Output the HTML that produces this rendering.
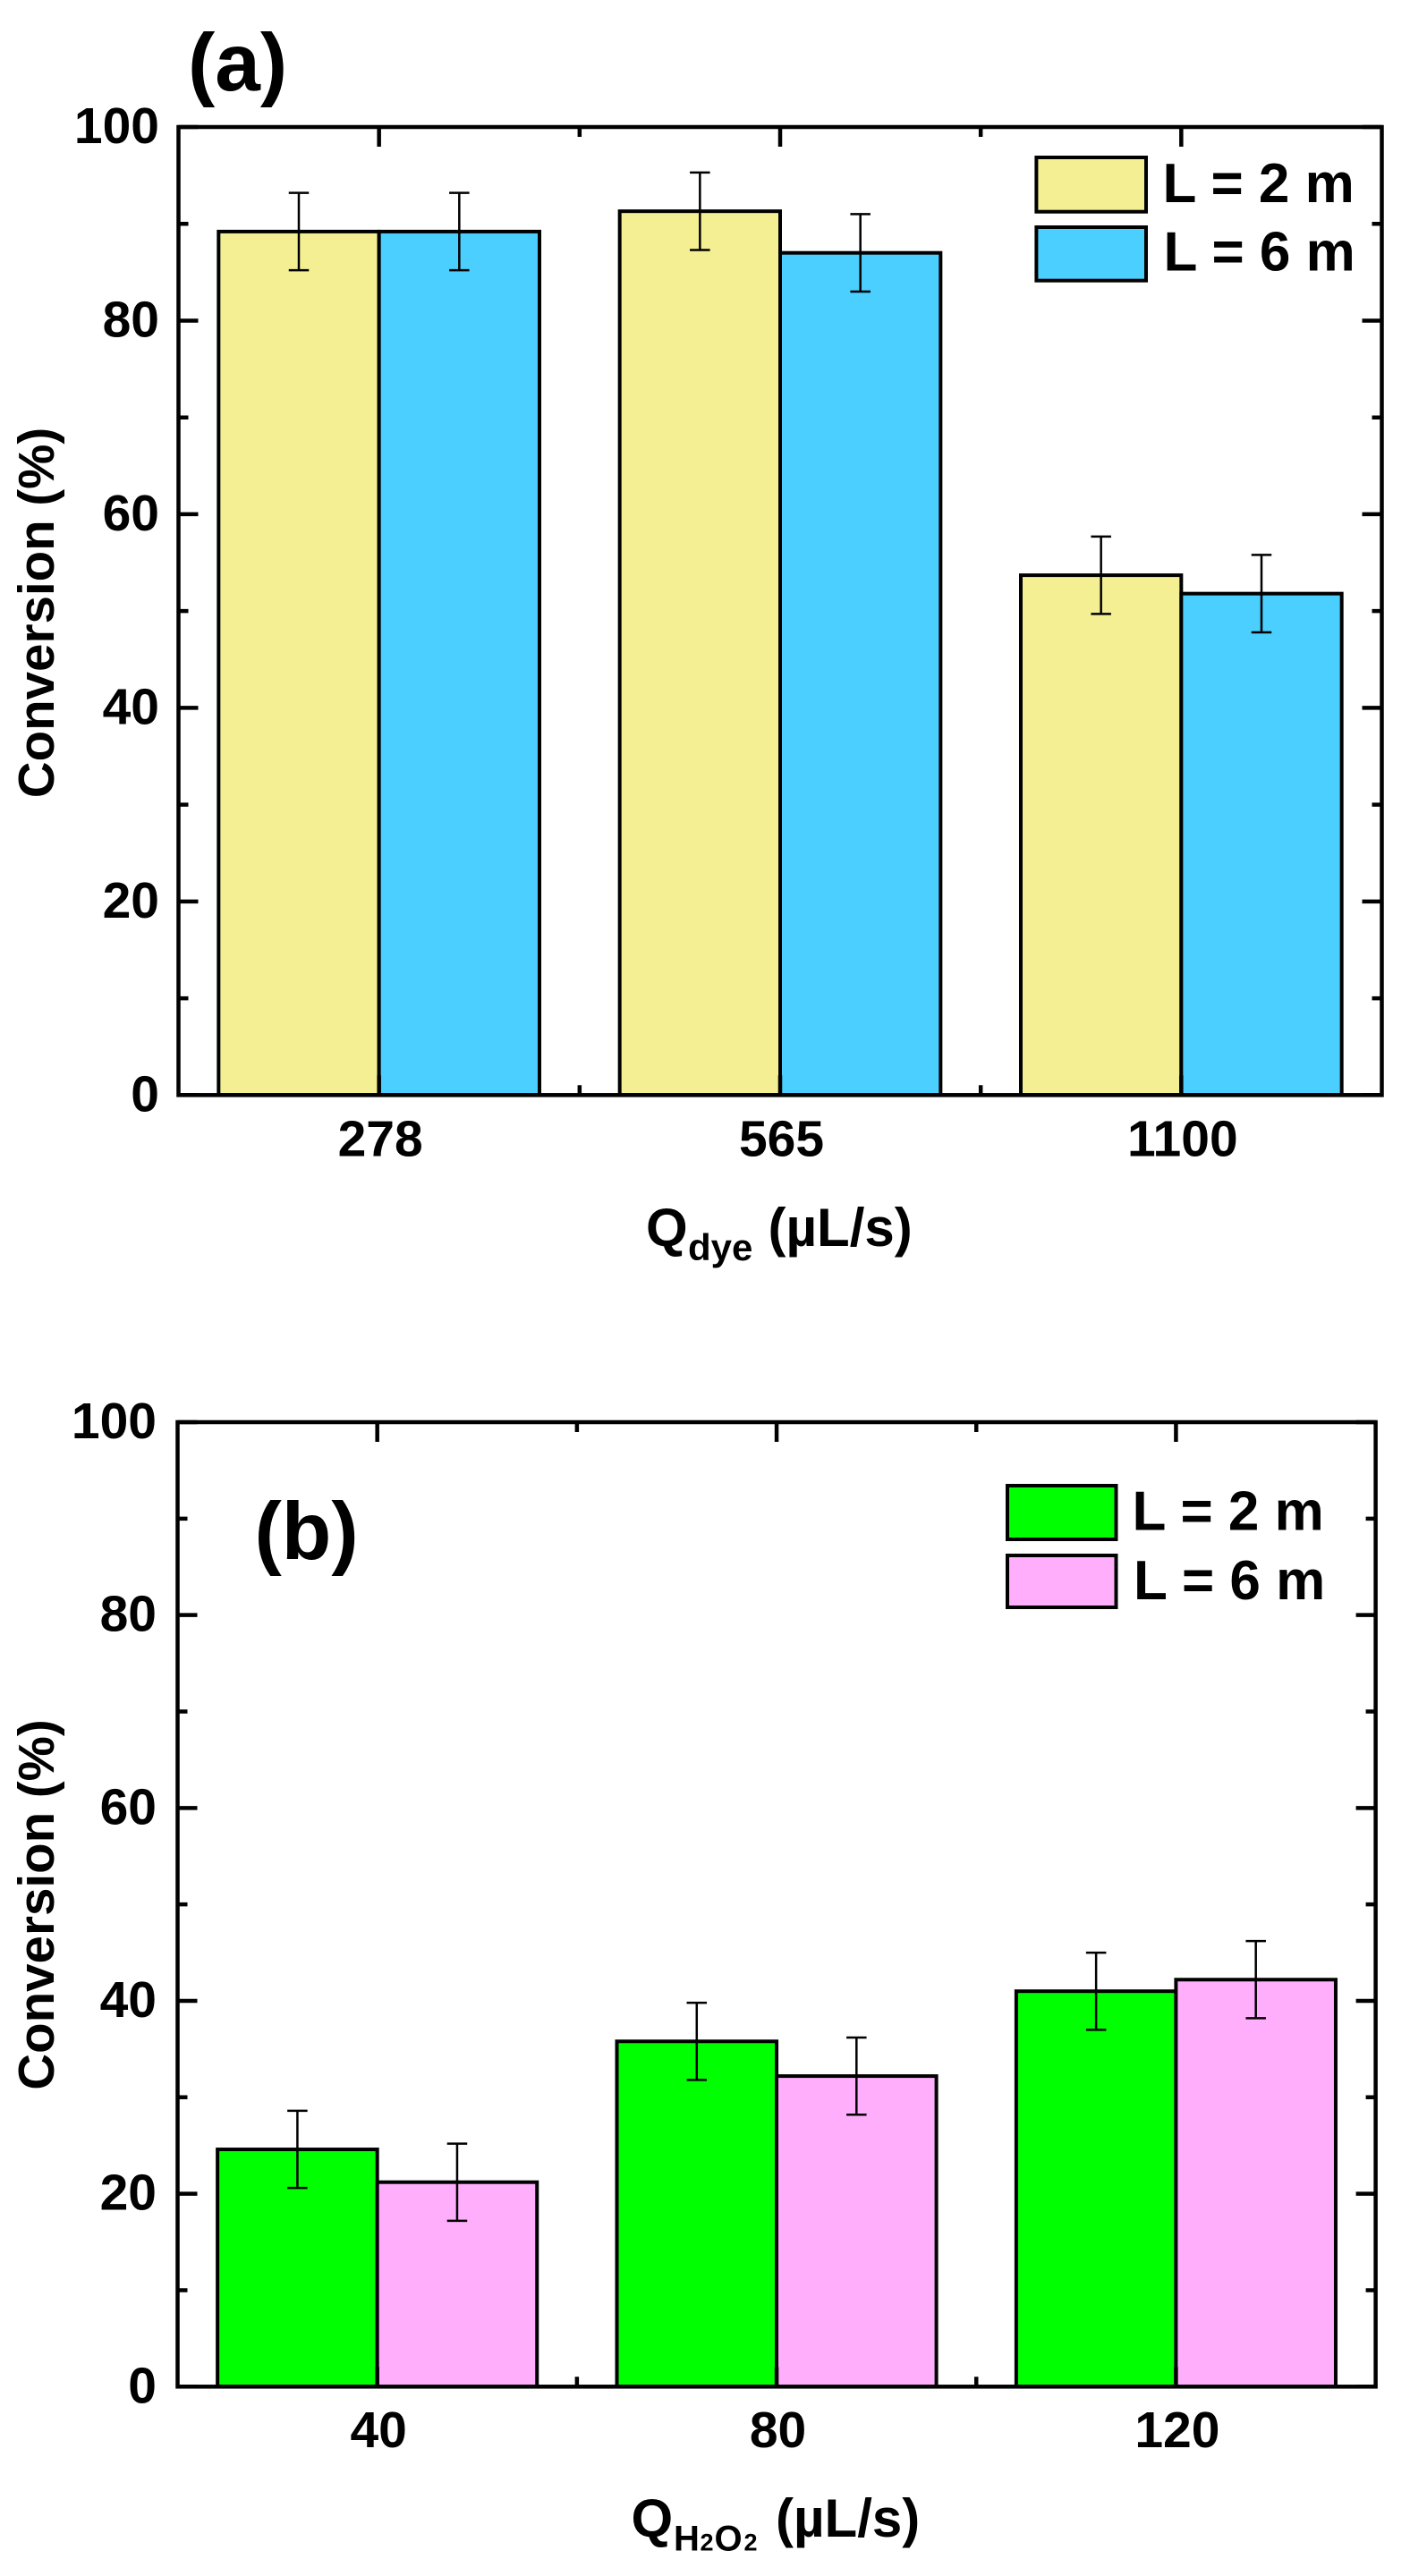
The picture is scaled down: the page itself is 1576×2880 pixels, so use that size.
<!DOCTYPE html>
<html lang="en">
<head>
<meta charset="utf-8">
<title>Conversion bar charts</title>
<style>
html,body{margin:0;padding:0;background:#fff;}
svg{display:block;font-family:"Liberation Sans",Arial,sans-serif;font-weight:bold;fill:#000;}
</style>
</head>
<body>
<svg id="figure" xmlns="http://www.w3.org/2000/svg" width="1576" height="2880" viewBox="0 0 1576 2880">
  <rect x="0" y="0" width="1576" height="2880" fill="#ffffff"/>
  <g id="panel-a"></g>
  <g id="panel-b"></g>

  <text x="210" y="101" font-size="91">(a)</text>
  <text x="284.5" y="1743" font-size="91">(b)</text>

  <text transform="translate(60,685) rotate(-90)" text-anchor="middle" font-size="56.5">Conversion (%)</text>
  <text transform="translate(60,2129.5) rotate(-90)" text-anchor="middle" font-size="56.5">Conversion (%)</text>

  <text font-size="60"><tspan x="722" y="1393">Q</tspan><tspan x="769" y="1409" font-size="42">dye</tspan><tspan x="858.5" y="1393">(µL/s)</tspan></text>
  <text font-size="60"><tspan x="705.5" y="2836">Q</tspan><tspan x="753" y="2851.5" font-size="40">H</tspan><tspan x="782.5" y="2851.5" font-size="27">2</tspan><tspan x="798.5" y="2851.5" font-size="40">O</tspan><tspan x="831.5" y="2851.5" font-size="27">2</tspan><tspan x="867" y="2836">(µL/s)</tspan></text>

  <g>
    <g>
      <rect x="1158.4" y="176" width="122.6" height="60.7" fill="#f4ef93" stroke="#000" stroke-width="4"/>
      <text x="1299.5" y="226" font-size="62">L = 2 m</text>
    </g>
    <g>
      <rect x="1158.4" y="254" width="122.6" height="59.7" fill="#4acfff" stroke="#000" stroke-width="4"/>
      <text x="1300.5" y="302.7" font-size="62">L = 6 m</text>
    </g>
  </g>
  <g>
    <g>
      <rect x="1126" y="1661" width="121.5" height="60" fill="#00ff00" stroke="#000" stroke-width="4"/>
      <text x="1265.5" y="1710.7" font-size="62">L = 2 m</text>
    </g>
    <g>
      <rect x="1126" y="1739" width="121.5" height="58" fill="#ffaefc" stroke="#000" stroke-width="4"/>
      <text x="1267" y="1788" font-size="62">L = 6 m</text>
    </g>
  </g>
</svg>
<script>
// ---- chart data ----
const categoriesA = ["278", "565", "1100"];
const conversionA2m = [89.2, 91.3, 53.7];
const conversionA6m = [89.2, 87.0, 51.8];
const errorA2m = [4, 4, 4];
const errorA6m = [4, 4, 4];

const categoriesB = ["40", "80", "120"];
const conversionB2m = [24.6, 35.8, 41.0];
const conversionB6m = [21.2, 32.2, 42.2];
const errorB2m = [4, 4, 4];
const errorB6m = [4, 4, 4];

const yMajorTicks = [0, 20, 40, 60, 80, 100];
const yMinorTicks = [10, 30, 50, 70, 90];
const yDomain = [0, 100];

const SVG_NS = "http://www.w3.org/2000/svg";

function make(parent, tag, attrs) {
  const node = document.createElementNS(SVG_NS, tag);
  for (const key in attrs) {
    node.setAttribute(key, attrs[key]);
  }
  parent.appendChild(node);
  return node;
}

function drawPanel(id, box, categories, series, tickLabelX, xLabelBaseline) {
  const root = document.getElementById(id);
  const yScale = v => box.bottom - (v - yDomain[0]) / (yDomain[1] - yDomain[0]) * (box.bottom - box.top);
  const band = (box.right - box.left) / categories.length;
  const xCenter = i => box.left + band * (i + 0.5);
  const barWidth = band * 0.4;

  // bars and error bars
  series.forEach((s, si) => {
    s.values.forEach((value, i) => {
      const x0 = xCenter(i) - barWidth + si * barWidth;
      const bar = make(root, "rect", {
        x: x0, y: yScale(value), width: barWidth, height: yScale(0) - yScale(value),
        fill: s.color, stroke: "#000", "stroke-width": 4
      });
      
      
    });
  });
  series.forEach((s, si) => {
    s.values.forEach((value, i) => {
      const cx = xCenter(i) - barWidth + si * barWidth + barWidth / 2;
      const hi = yScale(value + s.errors[i]);
      const lo = yScale(value - s.errors[i]);
      const err = make(root, "path", {
        d: "M" + (cx - 11.25) + " " + hi + "H" + (cx + 11.25) +
           "M" + cx + " " + hi + "V" + lo +
           "M" + (cx - 11.25) + " " + lo + "H" + (cx + 11.25),
        fill: "none", stroke: "#000", "stroke-width": 2.5
      });
      
      
    });
  });

  // y ticks, left and right, pointing inward
  const drawYTick = (value, length, kind) => {
    const y = yScale(value);
    const tick = make(root, "path", {
      d: "M" + box.left + " " + y + "H" + (box.left + length) +
         "M" + box.right + " " + y + "H" + (box.right - length),
      fill: "none", stroke: "#000", "stroke-width": 4.5
    });
    
    
  };
  yMajorTicks.forEach(v => drawYTick(v, 22, "major"));
  yMinorTicks.forEach(v => drawYTick(v, 11, "minor"));

  yMajorTicks.forEach(v => {
    const label = make(root, "text", {
      x: tickLabelX, y: yScale(v) + 18, "text-anchor": "end", "font-size": 57
    });
    label.textContent = String(v);
    
    
  });

  // x ticks, top and bottom, pointing inward
  const drawXTick = (x, length, name) => {
    const tick = make(root, "path", {
      d: "M" + x + " " + box.top + "V" + (box.top + length) +
         "M" + x + " " + box.bottom + "V" + (box.bottom - length),
      fill: "none", stroke: "#000", "stroke-width": 4.5
    });
    
    
  };
  categories.forEach((c, i) => {
    drawXTick(xCenter(i), 22, "x-tick-major-" + c);
    if (i < categories.length - 1) {
      drawXTick(xCenter(i) + band / 2, 11, "x-tick-minor-" + c);
    }
    const label = make(root, "text", {
      x: xCenter(i) + 1.5, y: xLabelBaseline, "text-anchor": "middle", "font-size": 57
    });
    label.textContent = c;
    
    
  });

  // plot frame
  const frame = make(root, "rect", {
    x: box.left, y: box.top, width: box.right - box.left, height: box.bottom - box.top,
    fill: "none", stroke: "#000", "stroke-width": 4.5
  });
  
  
}

drawPanel("panel-a",
  { left: 199.5, right: 1544.5, top: 142, bottom: 1224.3 },
  categoriesA,
  [
    { key: "a-2m", values: conversionA2m, errors: errorA2m, color: "#f4ef93" },
    { key: "a-6m", values: conversionA6m, errors: errorA6m, color: "#4acfff" }
  ],
  178, 1292.5);

drawPanel("panel-b",
  { left: 198.5, right: 1537.6, top: 1590, bottom: 2668.3 },
  categoriesB,
  [
    { key: "b-2m", values: conversionB2m, errors: errorB2m, color: "#00ff00" },
    { key: "b-6m", values: conversionB6m, errors: errorB6m, color: "#ffaefc" }
  ],
  175, 2736);
</script>
</body>
</html>
